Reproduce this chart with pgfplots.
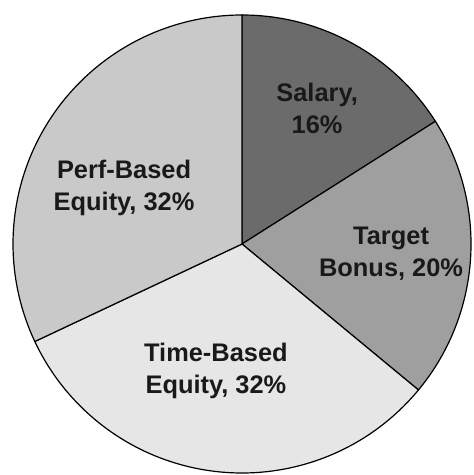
\documentclass[border=0pt]{standalone}
\usepackage{pgfplots}
\pgfplotsset{compat=1.18}
\usepackage{pgfplotstable}
\usepackage{fontspec}
\setmainfont{Liberation Sans}
\definecolor{cSal}{HTML}{6B6B6B}
\definecolor{cTgt}{HTML}{9F9F9F}
\definecolor{cTime}{HTML}{E6E6E6}
\definecolor{cPerf}{HTML}{C9C9C9}
% shares in percent
\def\vSal{16}
\def\vTgt{20}
\def\vTime{32}
\def\vPerf{32}
\pgfmathsetmacro\aA{90}
\pgfmathsetmacro\aB{\aA-3.6*\vSal}
\pgfmathsetmacro\aC{\aB-3.6*\vTgt}
\pgfmathsetmacro\aD{\aC-3.6*\vTime}
\pgfmathsetmacro\aE{\aD-3.6*\vPerf}
\begin{document}
\begin{tikzpicture}
\begin{axis}[
  scale only axis,
  width=236.5pt, height=237.5pt,
  xmin=-1.0568, xmax=1.0087,
  ymin=-1.0087, ymax=1.0655,
  axis line style={draw=none},
  ticks=none,
  clip=false,
]
\addplot[fill=cSal, draw=black, line width=0.6pt, domain=\aB:\aA, samples=80, variable=\t]
  ({cos(t)},{sin(t)}) -- (0,0) -- cycle;
\addplot[fill=cTgt, draw=black, line width=0.6pt, domain=\aC:\aB, samples=80, variable=\t]
  ({cos(t)},{sin(t)}) -- (0,0) -- cycle;
\addplot[fill=cTime, draw=black, line width=0.6pt, domain=\aD:\aC, samples=120, variable=\t]
  ({cos(t)},{sin(t)}) -- (0,0) -- cycle;
\addplot[fill=cPerf, draw=black, line width=0.6pt, domain=\aE:\aD, samples=120, variable=\t]
  ({cos(t)},{sin(t)}) -- (0,0) -- cycle;
\begin{scope}[every node/.style={align=center, text=black!90,
   font=\fontsize{12.7}{16}\selectfont\bfseries}]
\node at (0.328,0.590) {Salary,\\16\%};
\node at (-0.515,0.245) {Perf-Based\\Equity, 32\%};
\node at (0.651,-0.044) {Target\\Bonus, 20\%};
\node at (-0.114,-0.555) {Time-Based\\Equity, 32\%};
\end{scope}
\end{axis}
\end{tikzpicture}
\end{document}
